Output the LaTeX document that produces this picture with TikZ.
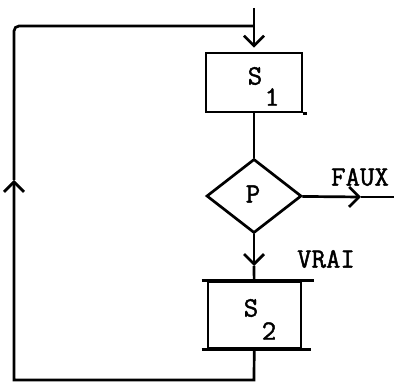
\documentclass[tikz,border=0pt]{standalone}
\usepackage{fontspec}
\newfontfamily\typew{Latin Modern Mono}[FakeBold=1.5]
\usetikzlibrary{arrows.meta,shapes.geometric}

\begin{document}
\begin{tikzpicture}[
    x=1pt, y=-1pt,
    line width=2.7pt,
    box/.style={draw, minimum width=96pt, minimum height=59pt, inner sep=0pt},
    decision/.style={draw, diamond, minimum width=95pt, minimum height=74pt, inner sep=0pt},
    arrow/.style={-{Straight Barb[length=10pt,width=20pt]}},
    txt/.style={font=\fontsize{28}{30}\selectfont\typew, inner sep=0pt}
  ]
    \useasboundingbox (0,0) rectangle (394,382);

    % blocs
    \node[box] (s1) at (254,82.5) {};
    \node[decision] (p) at (254,196) {};
    \node[box, minimum width=93pt, minimum height=66pt] (s2) at (254.5,315) {};

    % textes
    \node[txt] (s1s) at (255,76) {S};
    \node[txt] (s1i) at (272,97) {1};
    \node[txt] (pt) at (253,194) {P};
    \node[txt] (faux) at (360,177) {FAUX};
    \node[txt] (vrai) at (326,259) {VRAI};
    \node[txt] (s2s) at (251,308) {S};
    \node[txt] (s2i) at (269,331) {2};

    % points de passage
    \coordinate (top) at (254,8);
    \coordinate (tj) at (254,26);
    \coordinate (tl) at (14,26);
    \coordinate (bl) at (14,380);
    \coordinate (br) at (254,380);
    \coordinate (lm) at (14,180);
    \coordinate (fm) at (361,197);
    \coordinate (fe) at (394,197);
    \coordinate (vm) at (254,266);

    % traits de S2 qui depassent
    \draw ([xshift=-5pt]s2.north west) -- ([xshift=12pt]s2.north east);
    \draw ([xshift=-5pt]s2.south west) -- ([xshift=9pt]s2.south east);
    \draw (s1.south east) -- ++(4,0);

    % liaisons
    \draw[arrow, shorten >=4pt] (top) -- (s1);
    \draw (s1) -- (p);
    \draw[arrow] (p) -- (fm);
    \draw (fm) -- (fe);
    \draw[arrow] (p) -- (vm);
    \draw (vm) -- (s2);
    \draw[arrow] (s2) -- (br) -- (bl) -- (lm);
    \draw[rounded corners=5pt] (lm) -- (tl) -- (tj);
\end{tikzpicture}
\end{document}
